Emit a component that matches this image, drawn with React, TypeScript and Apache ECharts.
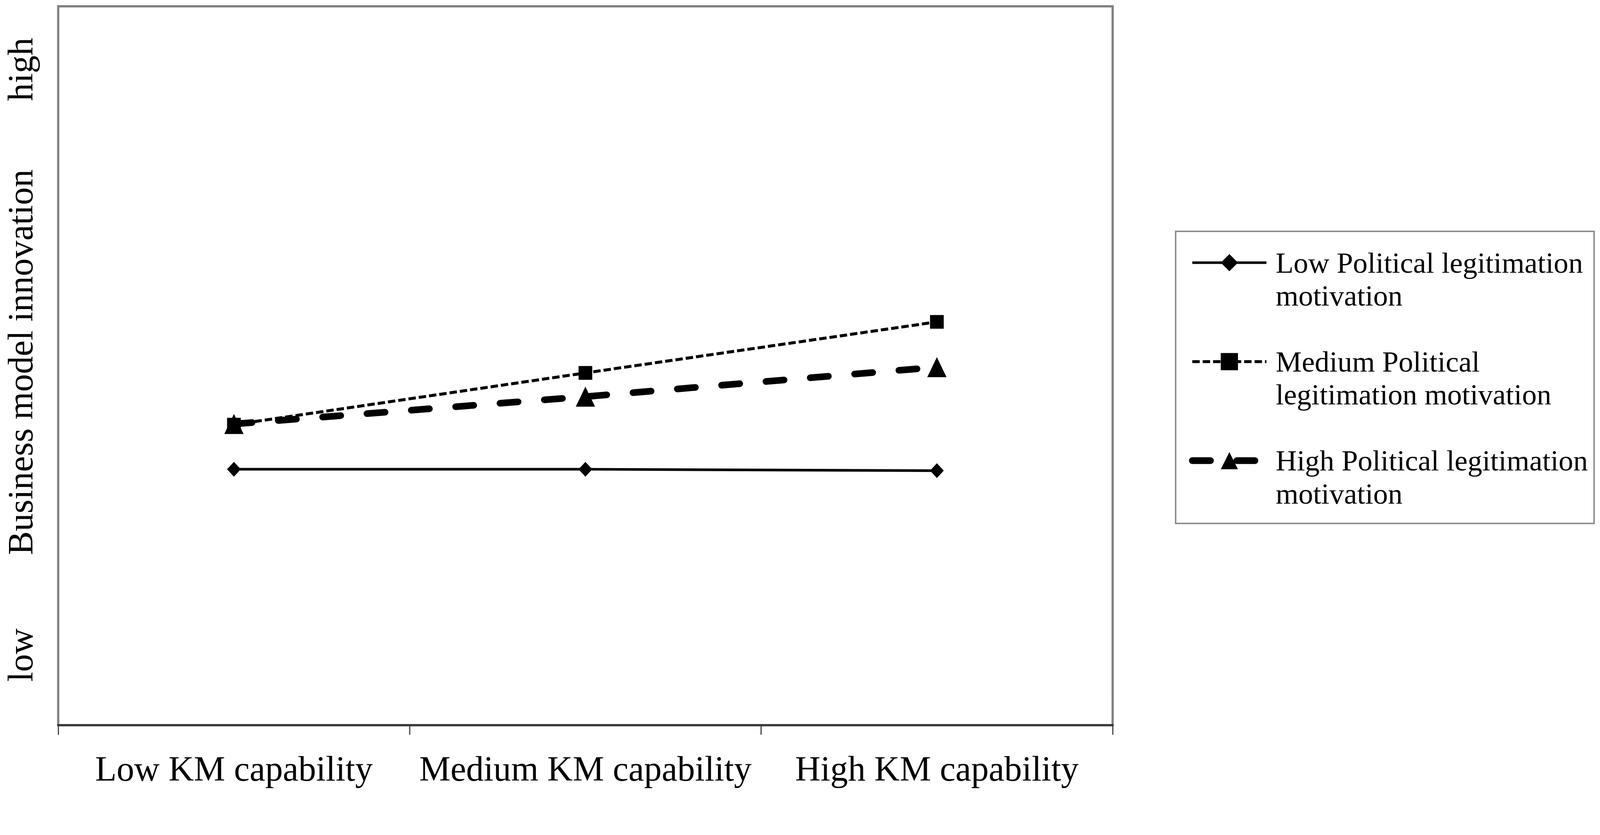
import React, { useEffect, useRef, useState } from "react";
import * as echarts from "echarts";

const categories = ["Low KM capability", "Medium KM capability", "High KM capability"];
const seriesNames = [
  "Low Political legitimation\nmotivation",
  "Medium Political\nlegitimation motivation",
  "High Political legitimation\nmotivation",
];
const lowValues = [35.6, 35.6, 35.4];
const mediumValues = [41.8, 49.0, 56.1];
const highValues = [41.9, 45.7, 49.8];
const yAxisTitle = "Business model innovation";
const yHighLabel = "high";
const yLowLabel = "low";

const SERIF = "'Liberation Serif', 'Times New Roman', serif";
const W = 4317;
const H = 2137;

export default function App() {
  const ref = useRef<HTMLDivElement>(null);
  const [scale] = useState(() => {
    const iw = window.innerWidth || W;
    const ih = window.innerHeight || H;
    return Math.min(iw / W, ih / H);
  });

  useEffect(() => {
    document.body.style.margin = "0";
    document.body.style.overflow = "hidden";
    document.documentElement.style.overflow = "hidden";
    if (!ref.current) return;
    const chart = echarts.init(ref.current, undefined, { renderer: "svg", width: W, height: H });
    const rotatedText = (text: string, y: number) => ({
      type: "text",
      x: 55,
      y,
      rotation: Math.PI / 2,
      style: {
        text,
        font: `96px ${SERIF}`,
        fill: "#000",
        align: "center",
        verticalAlign: "middle",
      },
    });
    const option = {
      animation: false,
      backgroundColor: "#ffffff",
      grid: {
        left: 157,
        right: W - 3002,
        top: 17,
        bottom: H - 1956,
        show: true,
        borderColor: "#808080",
        borderWidth: 6,
        backgroundColor: "transparent",
      },
      xAxis: {
        type: "category",
        data: categories,
        boundaryGap: true,
        axisLine: { show: true, lineStyle: { color: "#3a3a3a", width: 6 } },
        axisTick: { show: true, length: 26, lineStyle: { color: "#3a3a3a", width: 3 } },
        axisLabel: {
          color: "#000",
          fontFamily: SERIF,
          fontSize: 95,
          margin: 70,
          interval: 0,
        },
        splitLine: { show: false },
      },
      yAxis: {
        type: "value",
        min: 0,
        max: 100,
        axisLine: { show: false },
        axisTick: { show: false },
        axisLabel: { show: false },
        splitLine: { show: false },
      },
      legend: {
        orient: "vertical",
        left: 3208,
        top: 575,
        padding: 0,
        itemWidth: 200,
        itemHeight: 58,
        itemGap: 0,
        selectedMode: false,
        data: seriesNames,
        formatter: (name: string) => "\n" + name,
        lineStyle: { width: "inherit", type: "inherit", cap: "inherit" },
        textStyle: {
          color: "#000",
          fontFamily: SERIF,
          fontSize: 79,
          lineHeight: 89,
          padding: [0, 0, 0, 20],
        },
      },
      graphic: [
        {
          type: "rect",
          shape: { x: 3172, y: 624, width: 1129, height: 788 },
          style: { fill: "none", stroke: "#8a8a8a", lineWidth: 4 },
        },
        rotatedText(yHighLabel, 187),
        rotatedText(yAxisTitle, 977),
        rotatedText(yLowLabel, 1767),
      ],
      series: [
        {
          name: seriesNames[0],
          type: "line",
          data: lowValues,
          symbol: "diamond",
          symbolSize: [37, 40],
          itemStyle: { color: "#000" },
          lineStyle: { color: "#000", width: 7, type: "solid" },
          z: 3,
        },
        {
          name: seriesNames[1],
          type: "line",
          data: mediumValues,
          symbol: "rect",
          symbolSize: 37,
          itemStyle: { color: "#000" },
          lineStyle: { color: "#000", width: 8, type: [20, 8] },
          z: 5,
        },
        {
          name: seriesNames[2],
          type: "line",
          data: highValues,
          symbol: "triangle",
          symbolSize: [52, 54],
          itemStyle: { color: "#000" },
          lineStyle: { color: "#000", width: 18, type: [49, 71], cap: "round" },
          z: 4,
        },
      ],
    };
    chart.setOption(option as any);
    return () => chart.dispose();
  }, []);

  return (
    <div style={{ width: "100vw", height: "100vh", overflow: "hidden", position: "relative" }}>
      <div
        ref={ref}
        style={{
          width: W,
          height: H,
          position: "absolute",
          left: 0,
          top: 0,
          transform: `scale(${scale})`,
          transformOrigin: "0 0",
        }}
      />
    </div>
  );
}
